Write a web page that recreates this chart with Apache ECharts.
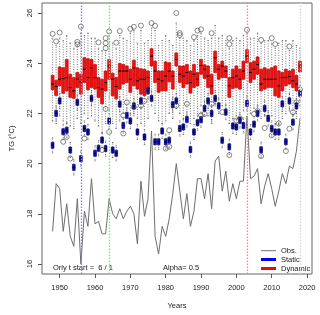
<!DOCTYPE html>
<html><head><meta charset="utf-8">
<script src="https://cdn.jsdelivr.net/npm/echarts@6/dist/echarts.min.js"></script>
<style>html,body{margin:0;padding:0;background:#fff}#c{width:320px;height:315px}</style>
</head><body><div id="c"></div>
<script>
const years = [1948,1949,1950,1951,1952,1953,1954,1955,1956,1957,1958,1959,1960,1961,1962,1963,1964,1965,1966,1967,1968,1969,1970,1971,1972,1973,1974,1975,1976,1977,1978,1979,1980,1981,1982,1983,1984,1985,1986,1987,1988,1989,1990,1991,1992,1993,1994,1995,1996,1997,1998,1999,2000,2001,2002,2003,2004,2005,2006,2007,2008,2009,2010,2011,2012,2013,2014,2015,2016,2017,2018];
const xTicks = [1950,1960,1970,1980,1990,2000,2010,2020];
const yTicks = [16,18,20,22,24,26];
const obs = [17.3,19.2,19.0,17.3,18.4,17.1,16.7,18.6,16.0,18.1,
17.5,19.4,17.6,17.7,17.2,17.2,18.6,18.0,17.8,18.2,
17.8,18.1,18.3,18.0,16.8,19.3,17.9,18.6,21.3,17.1,
16.4,17.5,17.1,17.8,18.8,20.0,18.9,17.8,18.8,17.5,
18.1,19.4,19.4,18.6,19.6,18.2,20.1,20.3,18.9,19.7,
18.5,19.2,18.6,19.3,19.3,21.9,19.4,19.5,19.8,18.4,
19.1,19.6,19.0,18.3,18.9,19.6,19.2,19.9,19.8,20.5,
21.8];
// Dynamic boxes
const dynHiW = [25.0,24.7,25.0,24.9,25.1,24.8,24.6,24.7,25.2,25.1,
25.2,25.0,25.0,24.6,24.5,24.5,25.1,24.8,24.6,25.1,
25.0,24.9,25.2,25.3,24.8,25.3,24.8,24.9,25.4,25.3,
24.7,24.9,25.1,24.9,24.7,25.6,25.0,25.0,24.9,24.7,
24.9,25.1,25.2,25.0,24.9,25.0,25.5,25.0,25.1,24.9,
24.6,24.9,25.0,24.9,25.1,25.2,25.0,25.0,25.2,24.8,
24.9,24.9,24.8,24.6,24.8,24.9,24.9,24.5,24.9,24.7,
24.6];
const dynQ3 = [23.52,23.32,23.85,23.82,24.15,23.56,23.43,23.63,23.56,24.22,
24.18,24.15,23.95,23.43,23.36,23.69,24.15,23.60,23.43,23.99,
23.95,23.89,23.76,24.12,23.82,23.78,23.76,23.69,24.58,24.08,
23.69,23.69,24.05,24.02,23.69,24.41,23.89,23.89,23.95,23.69,
23.95,23.63,24.15,23.94,23.89,23.56,24.48,23.95,24.08,23.89,
23.43,23.76,23.89,23.76,24.08,24.54,24.02,24.08,24.25,23.76,
23.82,23.76,23.82,23.89,23.69,23.63,23.76,23.69,23.76,23.52,
24.08];
const dynMed = [23.17,23.07,23.36,23.39,23.43,23.03,22.90,23.36,23.26,23.76,
23.43,23.82,23.43,23.03,22.97,23.23,23.89,23.36,23.07,23.69,
23.69,23.69,23.36,23.82,23.30,23.36,23.36,23.43,24.28,23.69,
23.36,23.30,23.49,23.69,23.49,24.15,23.56,23.49,23.63,23.23,
23.56,23.36,23.91,23.76,23.49,23.10,24.22,23.76,23.89,23.69,
23.10,23.43,23.49,23.36,23.69,24.28,23.63,23.76,23.95,23.17,
23.36,23.36,23.36,23.36,23.10,23.43,23.43,23.47,23.30,23.17,
23.89];
const dynQ1 = [22.94,22.71,23.10,22.80,22.90,22.64,22.60,23.03,22.77,23.23,
22.94,23.03,22.97,22.64,22.38,22.90,23.36,22.70,22.58,22.97,
23.17,23.23,22.84,23.10,22.97,22.77,22.70,22.97,23.89,23.23,
22.84,22.90,22.90,23.26,22.97,23.89,23.23,23.03,23.17,22.81,
23.03,23.10,23.56,23.39,23.03,22.77,23.63,23.36,23.43,23.43,
22.64,22.99,23.03,22.97,23.36,24.02,23.23,23.36,23.56,22.90,
22.97,23.03,23.03,22.70,22.64,22.90,23.10,23.17,23.03,22.90,
23.65];
const dynLoW = [21.7,21.6,21.9,21.7,21.6,21.5,21.4,21.8,21.6,22.0,
21.8,21.9,21.7,21.5,21.2,21.6,22.1,21.6,21.4,21.7,
22.0,22.0,21.7,21.9,21.8,21.6,21.5,21.8,22.5,22.0,
21.7,21.6,21.7,22.0,21.8,22.4,22.0,21.8,21.9,21.6,
21.8,22.0,22.3,22.2,21.9,21.6,22.4,22.2,22.3,22.2,
21.6,21.8,21.9,21.8,22.1,22.5,22.0,22.2,22.3,21.8,
21.9,21.9,21.9,21.6,21.6,21.8,22.0,22.1,21.9,21.8,
22.3];
// Static boxes
const staHiW = [21.03,22.30,22.80,21.57,21.63,20.84,20.15,22.74,20.50,21.70,
21.56,22.90,20.71,20.91,21.24,20.90,22.00,20.84,20.71,22.67,
21.82,22.22,22.00,22.60,21.56,22.80,21.36,23.20,22.90,21.17,
21.17,21.60,21.17,21.23,22.65,22.80,21.70,21.76,22.06,20.86,
21.56,21.93,22.05,22.50,22.80,22.30,22.90,22.60,21.23,22.35,
20.97,21.80,21.76,22.02,21.82,22.70,21.56,21.87,22.30,20.85,
22.50,22.10,21.70,21.56,21.56,22.68,21.17,22.80,21.95,22.60,
23.10];
const staQ3 = [20.85,22.12,22.62,21.39,21.45,20.66,19.97,22.56,20.32,21.52,
21.38,22.72,20.53,20.73,21.06,20.72,21.82,20.66,20.53,22.49,
21.64,22.04,21.82,22.42,21.38,22.62,21.18,23.02,22.72,20.99,
20.99,21.42,20.99,21.05,22.47,22.62,21.52,21.58,21.88,20.68,
21.38,21.75,21.87,22.32,22.62,22.12,22.72,22.42,21.05,22.17,
20.79,21.62,21.58,21.84,21.64,22.52,21.38,21.69,22.12,20.67,
22.32,21.92,21.52,21.38,21.38,22.50,20.99,22.62,21.77,22.42,
22.92];
const staMed = [20.73,22.00,22.50,21.27,21.33,20.54,19.85,22.44,20.20,21.40,
21.26,22.60,20.41,20.61,20.94,20.60,21.70,20.54,20.41,22.37,
21.52,21.92,21.70,22.30,21.26,22.50,21.06,22.90,22.60,20.87,
20.87,21.30,20.87,20.93,22.35,22.50,21.40,21.46,21.76,20.56,
21.26,21.63,21.75,22.20,22.50,22.00,22.60,22.30,20.93,22.05,
20.67,21.50,21.46,21.72,21.52,22.40,21.26,21.57,22.00,20.55,
22.20,21.80,21.40,21.26,21.26,22.38,20.87,22.50,21.65,22.30,
22.80];
const staQ1 = [20.61,21.88,22.38,21.15,21.21,20.42,19.73,22.32,20.08,21.28,
21.14,22.48,20.29,20.49,20.82,20.48,21.58,20.42,20.29,22.25,
21.40,21.80,21.58,22.18,21.14,22.38,20.94,22.78,22.48,20.75,
20.75,21.18,20.75,20.81,22.23,22.38,21.28,21.34,21.64,20.44,
21.14,21.51,21.63,22.08,22.38,21.88,22.48,22.18,20.81,21.93,
20.55,21.38,21.34,21.60,21.40,22.28,21.14,21.45,21.88,20.43,
22.08,21.68,21.28,21.14,21.14,22.26,20.75,22.38,21.53,22.18,
22.68];
const staLoW = [20.43,21.70,22.20,20.97,21.03,20.24,19.55,22.14,19.90,21.10,
20.96,22.30,20.11,20.31,20.64,20.30,21.40,20.24,20.11,22.07,
21.22,21.62,21.40,22.00,20.96,22.20,20.76,22.60,22.30,20.57,
20.57,21.00,20.57,20.63,22.05,22.20,21.10,21.16,21.46,20.26,
20.96,21.33,21.45,21.90,22.20,21.70,22.30,22.00,20.63,21.75,
20.37,21.20,21.16,21.42,21.22,22.10,20.96,21.27,21.70,20.25,
21.90,21.50,21.10,20.96,20.96,22.08,20.57,22.20,21.35,22.00,
22.50];
// Outliers (circles)
const outYears = [1948,1949,1950,1955,1955,1956,1961,1963,1963,1963,1964,1966,1967,1970,1971,1973,1976,1977,1983,1984,1984,1988,1989,1990,1993,1998,1998,2003,2007,2010,2011,2015,
1951,1952,1953,1957,1962,1963,1964,1968,1968,1969,1971,1973,1974,1980,1981,1981,1983,1986,1990,1991,1993,1996,1998,2000,2001,2005,2006,2007,2008,2010,2012,2014,2015,2016,2017,2018];
const outVals = [25.17,24.87,25.22,24.85,24.75,25.46,24.83,25.0,24.8,24.6,25.27,24.82,25.28,25.37,25.45,25.5,25.6,25.49,26.0,25.2,25.12,25.04,25.3,25.35,25.2,25.0,24.76,25.33,24.93,25.0,24.76,24.67,
20.87,21.06,20.2,21.0,20.54,22.18,21.26,21.2,21.92,22.44,22.25,22.31,22.5,20.6,21.33,20.67,22.31,22.38,21.92,21.98,22.38,22.05,20.34,21.72,21.8,21.98,22.1,20.3,21.42,21.13,21.6,20.5,21.39,22.05,22.44,22.95];
const startDates = [1956,1964,2003,2018];
const startColors = ['#7f7fff','#7fe07f','#ff8080','#d4d4d4'];

const FONT = '"Liberation Sans", Arial, Helvetica, sans-serif';
const TXT = '#1a1a1a';

function boxRender(fill, stroke, whisk, frac) {
  return function (params, api) {
    const x = api.value(0);
    const lo = api.coord([x, api.value(1)]);
    const q1 = api.coord([x, api.value(2)]);
    const md = api.coord([x, api.value(3)]);
    const q3 = api.coord([x, api.value(4)]);
    const hi = api.coord([x, api.value(5)]);
    const w = api.size([1, 0])[0] * frac;
    const cx = lo[0];
    const dash = {stroke: whisk, lineWidth: 0.8, lineDash: [1, 1.5], fill: null};
    const cap = {stroke: whisk, lineWidth: 0.8, fill: null};
    return {type: 'group', children: [
      {type: 'line', shape: {x1: cx, y1: q3[1], x2: cx, y2: hi[1]}, style: dash},
      {type: 'line', shape: {x1: cx, y1: q1[1], x2: cx, y2: lo[1]}, style: dash},
      {type: 'line', shape: {x1: cx - w / 4, y1: hi[1], x2: cx + w / 4, y2: hi[1]}, style: cap},
      {type: 'line', shape: {x1: cx - w / 4, y1: lo[1], x2: cx + w / 4, y2: lo[1]}, style: cap},
      {type: 'rect', shape: {x: cx - w / 2, y: q3[1], width: w, height: q1[1] - q3[1]}, style: {fill: fill, stroke: stroke, lineWidth: 0.6}},
      {type: 'line', shape: {x1: cx - w / 2, y1: md[1], x2: cx + w / 2, y2: md[1]}, style: {stroke: '#000', lineWidth: 1.1}}
    ]};
  };
}

const dynData = years.map((y, i) => [y, dynLoW[i], dynQ1[i], dynMed[i], dynQ3[i], dynHiW[i]]);
const staData = years.map((y, i) => [y, staLoW[i], staQ1[i], staMed[i], staQ3[i], staHiW[i]]);
const obsData = years.map((y, i) => [y, obs[i]]);
const outData = outYears.map((y, i) => [y, outVals[i]]);

const obsIcon = 'path://M0,0h0.01v0.01h-0.01z M0,1h15v1.2h-15z M14.99,2.99h0.01v0.01h-0.01z';

const chart = echarts.init(document.getElementById('c'), null, {renderer: 'canvas'});
chart.setOption({
  animation: false,
  backgroundColor: '#fff',
  grid: {left: 39, right: 8, top: 3, bottom: 38, show: true, borderColor: '#666', borderWidth: 1, backgroundColor: 'transparent'},
  xAxis: {
    type: 'value', min: 1945, max: 2021.4,
    splitLine: {show: false}, axisLine: {show: false},
    axisTick: {show: true, length: 4, customValues: xTicks, lineStyle: {color: '#555'}},
    axisLabel: {customValues: xTicks, formatter: v => String(v), fontSize: 7.5, margin: 10, color: TXT, fontFamily: FONT},
    name: 'Years', nameLocation: 'middle', nameGap: 28,
    nameTextStyle: {fontSize: 7.5, color: TXT, fontFamily: FONT}
  },
  yAxis: {
    type: 'value', min: 15.6, max: 26.4,
    splitLine: {show: false}, axisLine: {show: false},
    axisTick: {show: true, length: 4, customValues: yTicks, lineStyle: {color: '#555'}},
    axisLabel: {customValues: yTicks, rotate: 90, fontSize: 7.5, margin: 8, color: TXT, fontFamily: FONT},
    name: 'TG (°C)', nameLocation: 'middle', nameRotate: 90, nameGap: 26,
    nameTextStyle: {fontSize: 7.5, color: TXT, fontFamily: FONT}
  },
  legend: {
    orient: 'vertical', left: 256, top: 241, itemWidth: 15, itemHeight: 3, itemGap: 0,
    textStyle: {fontSize: 7.5, color: TXT, fontFamily: FONT, lineHeight: 9},
    data: [{name: 'Obs.', icon: obsIcon}, {name: 'Static', icon: 'rect'}, {name: 'Dynamic', icon: 'rect'}]
  },
  graphic: [
    {type: 'text', left: 53, top: 264, style: {text: 'Orly t start =  6 / 1', fontSize: 7.5, fontFamily: FONT, fill: TXT}},
    {type: 'text', left: 163, top: 264, style: {text: 'Alpha= 0.5', fontSize: 7.5, fontFamily: FONT, fill: TXT}}
  ],
  series: [
    {
      name: 'Obs.', type: 'line', data: obsData, showSymbol: false, symbol: 'none',
      lineStyle: {color: '#6e6e6e', width: 1}, itemStyle: {color: '#8c8c8c'}, z: 2,
      markLine: {
        silent: true, symbol: 'none', label: {show: false},
        data: startDates.map((d, i) => ({xAxis: d, lineStyle: {color: startColors[i], type: [1.5, 1.5], width: 1.3}})),
        z: 6
      }
    },
    {
      name: 'Dynamic', type: 'custom', data: dynData, renderItem: boxRender('#ee1111', '#c00000', '#555', 0.85),
      encode: {x: 0, y: [1, 5]}, itemStyle: {color: '#ff0000'}, z: 3
    },
    {
      name: 'Static', type: 'custom', data: staData, renderItem: boxRender('#0a0acc', '#000055', '#555', 0.8),
      encode: {x: 0, y: [1, 5]}, itemStyle: {color: '#0000ff'}, z: 4
    },
    {
      name: 'out', type: 'scatter', data: outData, symbol: 'circle', symbolSize: 5,
      itemStyle: {color: 'transparent', borderColor: '#444', borderWidth: 0.8}, z: 5, silent: true
    }
  ]
});
</script>
</body></html>
